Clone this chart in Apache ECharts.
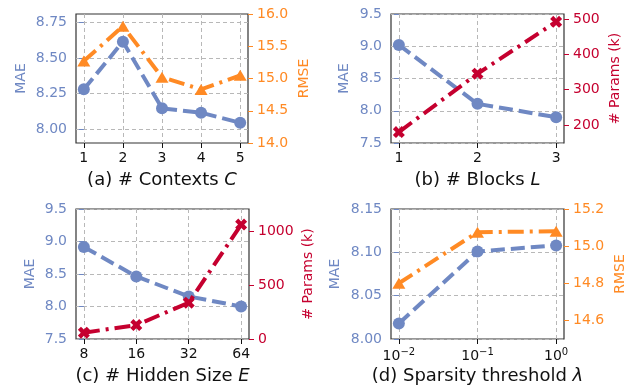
<!DOCTYPE html>
<html>
<head>
<meta charset="utf-8">
<script src="https://cdn.jsdelivr.net/npm/echarts@6/dist/echarts.min.js"></script>
<style>
  html, body { margin: 0; padding: 0; background: #fff; }
  #chart { width: 634px; height: 387px; }
</style>
</head>
<body>
<div id="chart"></div>
<script>
// data
const ctxCats = ['1', '2', '3', '4', '5'];
const ctxMae = [8.28, 8.614, 8.147, 8.116, 8.046];
const ctxRmse = [15.27, 15.81, 15.02, 14.83, 15.05];

const blockCats = ['1', '2', '3'];
const blockMae = [9.02, 8.107, 7.90];
const blockParams = [180, 345, 492];

const hiddenCats = ['8', '16', '32', '64'];
const hiddenMae = [8.915, 8.463, 8.155, 8.00];
const hiddenParams = [59, 129, 337, 1062];

const lambdaCats = ['10{sup|−2}', '10{sup|−1}', '10{sup|0}'];
const lambdaMae = [8.018, 8.101, 8.108];
const lambdaRmse = [14.80, 15.075, 15.08];

// tick labels
const ctxMaeTicks = [8.00, 8.25, 8.50, 8.75];
const ctxRmseTicks = [14.0, 14.5, 15.0, 15.5, 16.0];
const blockMaeTicks = [7.5, 8.0, 8.5, 9.0, 9.5];
const blockParamTicks = [200, 300, 400, 500];
const hiddenMaeTicks = [7.5, 8.0, 8.5, 9.0, 9.5];
const hiddenParamTicks = [0, 500, 1000];
const lambdaMaeTicks = [8.00, 8.05, 8.10, 8.15];
const lambdaRmseTicks = [14.6, 14.8, 15.0, 15.2];

const BLUE = '#6f88c3';
const ORANGE = '#ff8a24';
const RED = '#c5002f';
const FONT = 'DejaVu Sans';
// thick filled "X" like matplotlib's marker
const XMARK = 'path://M0,2.6 L2.6,0 L5,2.4 L7.4,0 L10,2.6 L7.6,5 L10,7.4 L7.4,10 L5,7.6 L2.6,10 L0,7.4 L2.4,5 Z';

const panels = [
  {
    rect: { left: 76, top: 14, width: 172, height: 129 },
    cats: ctxCats, pad: 0.2,
    title: '(a) # Contexts {it|C}',
    l: { data: ctxMae, ticks: ctxMaeTicks, min: 7.904, max: 8.808, dec: 2, name: 'MAE', gap: 48 },
    r: { data: ctxRmse, ticks: ctxRmseTicks, min: 14, max: 16, dec: 1, name: 'RMSE', gap: 49,
         color: ORANGE, symbol: 'triangle', size: [13, 11] },
  },
  {
    rect: { left: 391, top: 14, width: 173, height: 129 },
    cats: blockCats, pad: 0.1,
    title: '(b) # Blocks {it|L}',
    l: { data: blockMae, ticks: blockMaeTicks, min: 7.5, max: 9.5, dec: 1, name: 'MAE', gap: 40 },
    r: { data: blockParams, ticks: blockParamTicks, min: 149, max: 514, dec: 0, name: '# Params (k)', gap: 44,
         color: RED, symbol: XMARK, size: 12 },
  },
  {
    rect: { left: 76, top: 209, width: 173, height: 130 },
    cats: hiddenCats, pad: 0.15,
    title: '(c) # Hidden Size {it|E}',
    l: { data: hiddenMae, ticks: hiddenMaeTicks, min: 7.5, max: 9.5, dec: 1, name: 'MAE', gap: 39 },
    r: { data: hiddenParams, ticks: hiddenParamTicks, min: 0, max: 1207, dec: 0, name: '# Params (k)', gap: 52,
         color: RED, symbol: XMARK, size: 12 },
  },
  {
    rect: { left: 391, top: 209, width: 173, height: 130 },
    cats: lambdaCats, pad: 0.1,
    title: '(d) Sparsity threshold {it|λ}',
    l: { data: lambdaMae, ticks: lambdaMaeTicks, min: 8.0, max: 8.15, dec: 2, name: 'MAE', gap: 49 },
    r: { data: lambdaRmse, ticks: lambdaRmseTicks, min: 14.5, max: 15.2, dec: 1, name: 'RMSE', gap: 49,
         color: ORANGE, symbol: 'triangle', size: [13, 11] },
  },
];

const gridLine = { show: true, lineStyle: { color: '#b8b8b8', type: [4, 3], width: 1 } };

const option = {
  animation: false,
  backgroundColor: '#fff',
  title: [],
  grid: [],
  xAxis: [],
  yAxis: [],
  series: [],
};

panels.forEach((p, i) => {
  const idx = p.cats.map((c, j) => j);
  option.grid.push(Object.assign({ show: true, borderColor: '#333', borderWidth: 1.2 }, p.rect));

  option.title.push({
    text: p.title,
    left: p.rect.left + p.rect.width / 2,
    top: p.rect.top + p.rect.height + 28,
    textAlign: 'center',
    padding: 0,
    textStyle: {
      fontFamily: FONT, fontSize: 18, fontWeight: 'normal', color: '#111',
      rich: { it: { fontFamily: FONT, fontSize: 18, fontStyle: 'italic', color: '#111' } },
    },
  });

  option.xAxis.push({
    type: 'value',
    gridIndex: i,
    min: -p.pad,
    max: p.cats.length - 1 + p.pad,
    axisLine: { show: false },
    axisTick: { show: true, length: 5, customValues: idx, lineStyle: { color: '#111' } },
    axisLabel: {
      customValues: idx,
      margin: 8,
      color: '#111',
      fontFamily: FONT,
      fontSize: 14,
      formatter: (v) => p.cats[Math.round(v)],
      rich: { sup: { fontFamily: FONT, fontSize: 10, color: '#111', verticalAlign: 'top', padding: [0, 0, 8, 0] } },
    },
    splitLine: gridLine,
  });

  const yAx = (s, pos, color, withGrid) => ({
    type: 'value',
    gridIndex: i,
    position: pos,
    min: s.min,
    max: s.max,
    name: s.name,
    nameLocation: 'middle',
    nameGap: s.gap,
    nameTextStyle: { color: color, fontFamily: FONT, fontSize: 14 },
    axisLine: { show: false },
    axisTick: { show: true, length: 5, customValues: s.ticks, lineStyle: { color: color } },
    axisLabel: {
      customValues: s.ticks,
      margin: 9,
      color: color,
      fontFamily: FONT,
      fontSize: 14,
      formatter: (v) => v.toFixed(s.dec),
    },
    splitLine: withGrid ? gridLine : { show: false },
  });
  option.yAxis.push(yAx(p.l, 'left', BLUE, true));
  option.yAxis.push(yAx(p.r, 'right', p.r.color, false));

  option.series.push({
    type: 'line',
    xAxisIndex: i,
    yAxisIndex: 2 * i,
    data: p.l.data.map((v, j) => [j, v]),
    symbol: 'circle',
    symbolSize: 12,
    lineStyle: { color: BLUE, width: 4, type: [14, 6] },
    itemStyle: { color: BLUE },
    z: 2,
  });
  option.series.push({
    type: 'line',
    xAxisIndex: i,
    yAxisIndex: 2 * i + 1,
    data: p.r.data.map((v, j) => [j, v]),
    symbol: p.r.symbol,
    symbolSize: p.r.size,
    lineStyle: { color: p.r.color, width: 4, type: [16, 6, 3, 6] },
    itemStyle: { color: p.r.color },
    z: 3,
  });
});

const chart = echarts.init(document.getElementById('chart'));
chart.setOption(option);
</script>
</body>
</html>
